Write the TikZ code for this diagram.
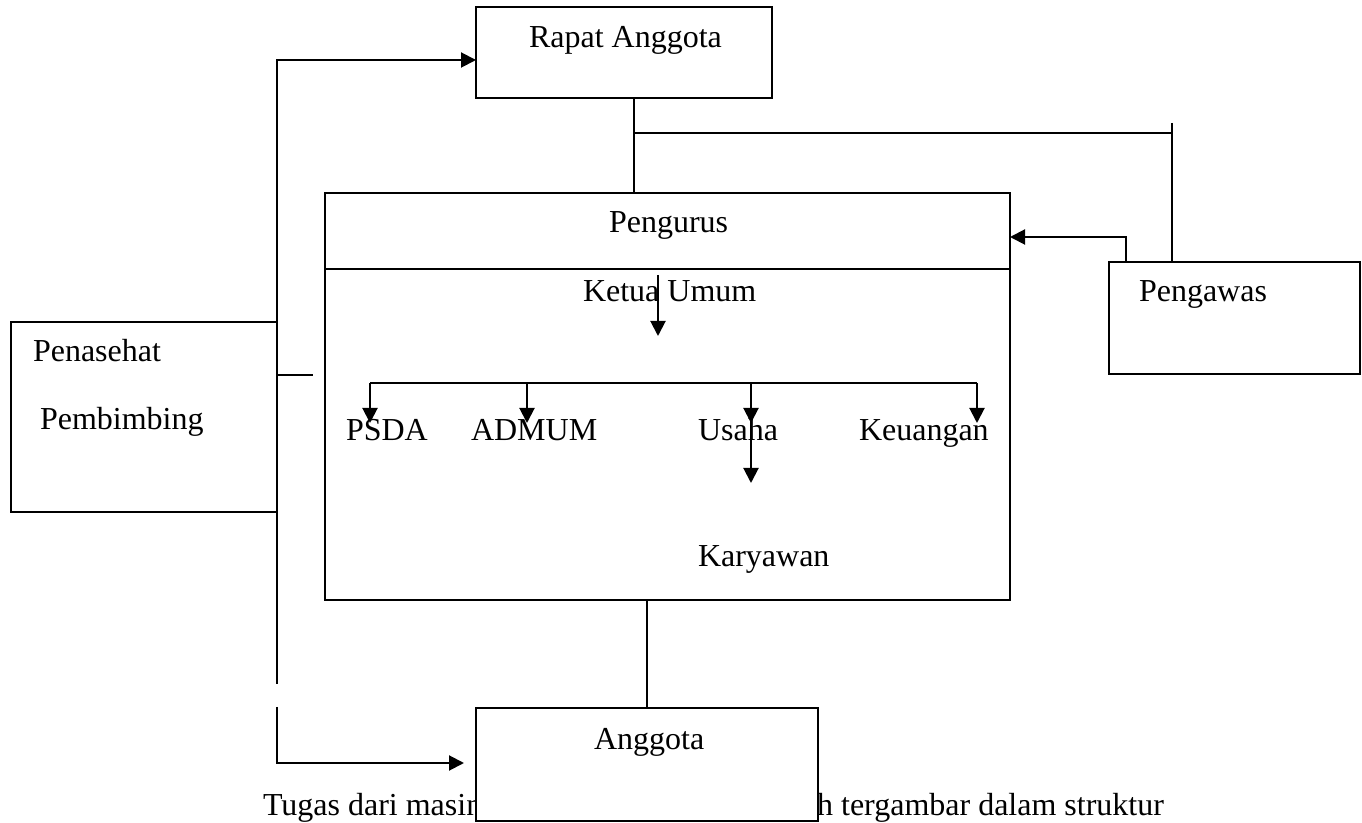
\documentclass[tikz,border=0pt]{standalone}
\usepackage{fontspec}
\setmainfont{Liberation Serif}
\usetikzlibrary{arrows.meta}
\begin{document}
\begin{tikzpicture}[x=0.5pt,y=-0.5pt,
  line width=1pt,
  box/.style={draw,fill=white,line width=1pt,inner sep=0pt,outer sep=0pt,anchor=north west},
  lbl/.style={inner sep=0pt,anchor=base west,font=\fontsize{16}{19}\selectfont},
  arr/.style={-{Triangle[length=7.5pt,width=7.5pt]}},
  conn/.style={line width=1pt}]
\useasboundingbox (0,0) rectangle (1362,823);
% boxes
\node[box,minimum width=148pt,minimum height=45.5pt] (rapat) at (476,7) {};
\node[box,minimum width=342.5pt,minimum height=203.5pt] (pengurus) at (325,193) {};
\node[box,minimum width=125.5pt,minimum height=56pt] (pengawas) at (1109,262) {};
\node[box,minimum width=133pt,minimum height=95pt] (penasehat) at (11,322) {};
% divider in pengurus
\coordinate (dv) at (0,269);
\draw[conn] (pengurus.west |- dv) -- (pengurus.east |- dv);
% texts
\node[lbl] (trapat) at (528,48) {Rapat Anggota};
\node[lbl] (tpengurus) at (608,233) {Pengurus};
\node[lbl] (tketua) at (582,302) {Ketua Umum};
\node[lbl] (tpengawas) at (1138,302) {Pengawas};
\node[lbl] (tpenasehat) at (32,362) {Penasehat};
\node[lbl] (tpembimbing) at (39,430) {Pembimbing};
\node[lbl] (tpsda) at (345,441) {PSDA};
\node[lbl] (tadmum) at (470,441) {ADMUM};
\node[lbl] (tusaha) at (697,441) {Usaha};
\node[lbl] (tkeu) at (858,441) {Keuangan};
\node[lbl] (tkary) at (697,567) {Karyawan};
\node[lbl] (cap1) at (262,816) {Tugas dari masin};
\node[lbl,anchor=base east] (cap2) at (1165,816) {h tergambar dalam struktur};
% anggota box over caption
\node[box,minimum width=171pt,minimum height=56.5pt] (anggota) at (476,708) {};
\node[lbl] (tanggota) at (593,750) {Anggota};
% connectors: rapat - pengurus - pengawas
\coordinate (j1) at (634,133);
\coordinate (j2) at (1172,133);
\coordinate (j2top) at (1172,123);
\draw[conn] (rapat.south -| j1) -- (pengurus.north -| j1);
\draw[conn] (j1) -- (j2);
\draw[conn] (j2top) -- (pengawas.north -| j2top);
% pengawas -> pengurus
\coordinate (p1) at (1126,237);
\draw[conn,arr] (pengawas.north -| p1) -- (p1) -- (pengurus.east |- p1);
% pengurus - anggota
\coordinate (p2) at (647,650);
\draw[conn] (pengurus.south -| p2) -- (anggota.north -| p2);
% left line to rapat
\coordinate (l1) at (277,60);
\coordinate (l2) at (277,684);
\coordinate (l3) at (277,707);
\coordinate (l4) at (277,763);
\coordinate (l5) at (464,763);
\draw[conn,arr] (l2) -- (l1) -- (rapat.west |- l1);
\draw[conn,arr] (l3) -- (l4) -- (l5);
\coordinate (t1) at (277,375);
\coordinate (t2) at (313,375);
\draw[conn] (t1) -- (t2);
% ketua arrow
\coordinate (k1) at (658,275);
\coordinate (k2) at (658,336);
\draw[conn,arr] (k1) -- (k2);
% branches
\coordinate (b1) at (370,383);
\coordinate (b2) at (527,383);
\coordinate (b3) at (751,383);
\coordinate (b4) at (977,383);
\draw[conn] (b1) -- (b4);
\draw[conn,arr] (b1) -- ++(0,40);
\draw[conn,arr] (b2) -- ++(0,40);
\draw[conn,arr] (b3) -- ++(0,40);
\draw[conn,arr] (b4) -- ++(0,40);
\coordinate (u2) at (751,483);
\draw[conn,arr] (b3) -- (u2);
\end{tikzpicture}
\end{document}
